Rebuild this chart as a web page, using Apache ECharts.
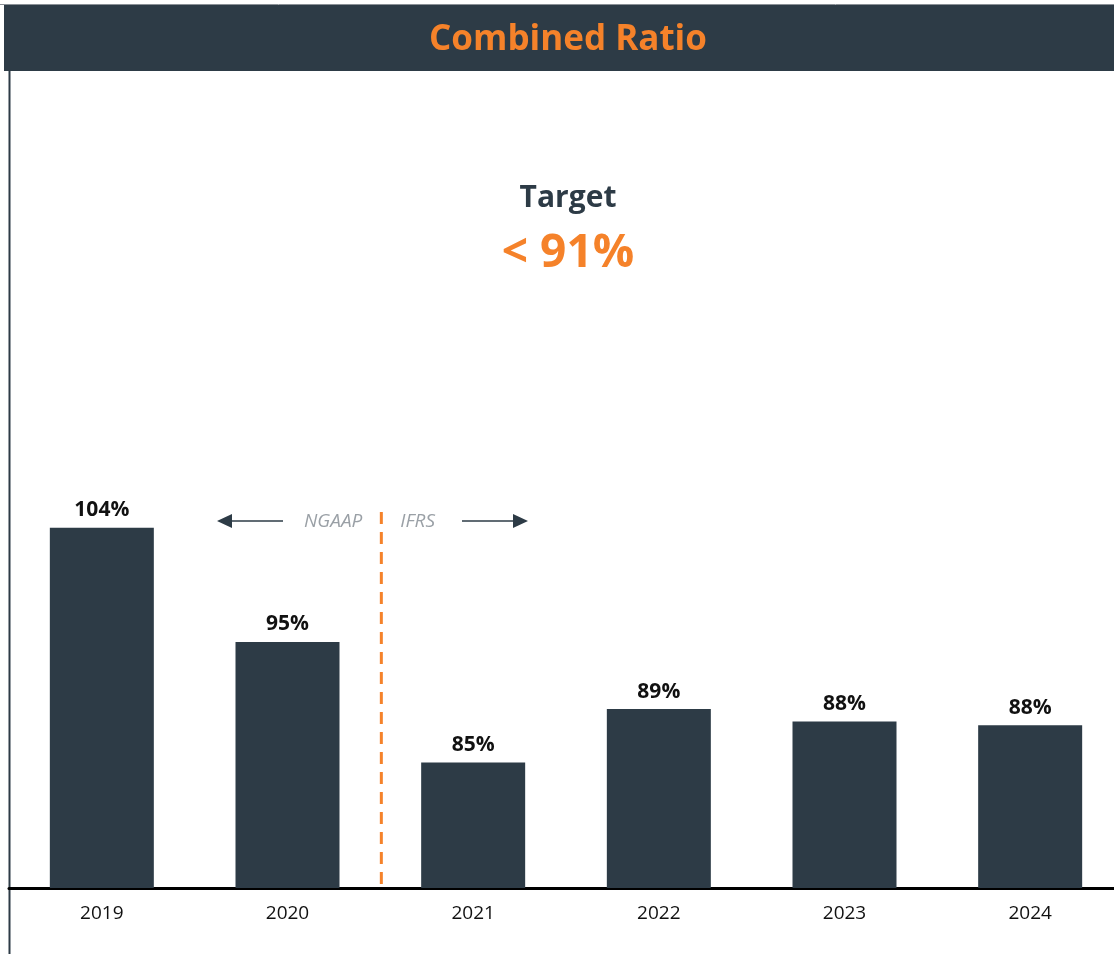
<!DOCTYPE html>
<html>
<head>
<meta charset="utf-8">
<title>Combined Ratio</title>
<script src="https://cdn.jsdelivr.net/npm/echarts@6/dist/echarts.min.js"></script>
<style>
  html, body { margin: 0; padding: 0; background: #fff; }
  #main { width: 1114px; height: 954px; }
</style>
</head>
<body>
<div id="main"></div>
<script>
// data
var years = ['2019', '2020', '2021', '2022', '2023', '2024'];
var ratios = [104.0, 94.8, 85.1, 89.4, 88.4, 88.1];
var targetText = '< 91%';

var slate = '#2d3b46';
var orange = '#f5822a';
var font = 'Open Sans';

var myChart = echarts.init(document.getElementById('main'));

var option = {
	animation: false,
	backgroundColor: '#fff',
	grid: {
		left: 9,
		width: 1114,
		top: 391,
		bottom: 66,
		outerBoundsMode: 'none',
		containLabel: false
	},
	xAxis: {
		type: 'category',
		data: years,
		axisLine: { show: true, lineStyle: { color: '#000', width: 3 } },
		axisTick: { show: false },
		axisLabel: { fontFamily: font, fontSize: 19, color: '#111', margin: 16 }
	},
	yAxis: {
		type: 'value',
		min: 75,
		max: 115,
		show: false,
		splitLine: { show: false }
	},
	series: [{
		type: 'bar',
		data: ratios,
		barWidth: 104,
		itemStyle: { color: slate },
		label: {
			show: true,
			position: 'top',
			distance: 7,
			fontFamily: font,
			fontWeight: 'bold',
			fontSize: 21,
			color: '#111',
			formatter: function(p) { return Math.round(p.value) + '%'; }
		}
	}]
};
myChart.setOption(option);

// decorations placed from the chart's own scale
var p1 = myChart.convertToPixel({ seriesIndex: 0 }, [1, 75]);
var p2 = myChart.convertToPixel({ seriesIndex: 0 }, [2, 75]);
var splitX = (p1[0] + p2[0]) / 2;
var baseY = p1[1];
var arrowY = 521;

myChart.setOption({
	graphic: [
		// header band
		{ type: 'line', shape: { x1: 0, y1: 4.5, x2: 1114, y2: 4.5 }, style: { stroke: '#8a9096', lineWidth: 1 } },
		{ type: 'rect', shape: { x: 4, y: 5, width: 1110, height: 66 }, style: { fill: slate } },
		{ type: 'text', x: 568, y: 40, style: { text: 'Combined Ratio', fill: orange, font: 'bold 35px "Open Sans"', textAlign: 'center', textVerticalAlign: 'middle' } },
		// left frame line
		{ type: 'line', shape: { x1: 9.5, y1: 71, x2: 9.5, y2: 954 }, style: { stroke: slate, lineWidth: 2 } },
		{ type: 'line', shape: { x1: 10, y1: baseY, x2: 15, y2: baseY }, style: { stroke: '#e8403a', lineWidth: 2 } },
		// target
		{ type: 'text', x: 568, y: 198, style: { text: 'Target', fill: slate, font: 'bold 30px "Open Sans"', textAlign: 'center', textVerticalAlign: 'middle' } },
		{ type: 'text', x: 568, y: 254, style: { text: targetText, fill: orange, font: 'bold 46px "Open Sans"', textAlign: 'center', textVerticalAlign: 'middle' } },
		// NGAAP / IFRS split
		{ type: 'line', z: 10, shape: { x1: splitX + 1, y1: 512, x2: splitX + 1, y2: baseY - 2 }, style: { stroke: orange, lineWidth: 3, lineDash: [12, 8] } },
		{ type: 'text', x: splitX - 18, y: arrowY + 1, style: { text: 'NGAAP', fill: '#9aa0a6', font: 'italic 19px "Open Sans"', textAlign: 'right', textVerticalAlign: 'middle' } },
		{ type: 'text', x: splitX + 20, y: arrowY + 1, style: { text: 'IFRS', fill: '#9aa0a6', font: 'italic 19px "Open Sans"', textAlign: 'left', textVerticalAlign: 'middle' } },
		{ type: 'line', shape: { x1: 228, y1: arrowY, x2: 283, y2: arrowY }, style: { stroke: slate, lineWidth: 1.5 } },
		{ type: 'polygon', shape: { points: [[217, arrowY], [232, arrowY - 7], [232, arrowY + 7]] }, style: { fill: slate } },
		{ type: 'line', shape: { x1: 462, y1: arrowY, x2: 517, y2: arrowY }, style: { stroke: slate, lineWidth: 1.5 } },
		{ type: 'polygon', shape: { points: [[528, arrowY], [513, arrowY - 7], [513, arrowY + 7]] }, style: { fill: slate } }
	]
});

window.addEventListener('resize', function() {
	myChart.resize();
});
</script>
</body>
</html>
